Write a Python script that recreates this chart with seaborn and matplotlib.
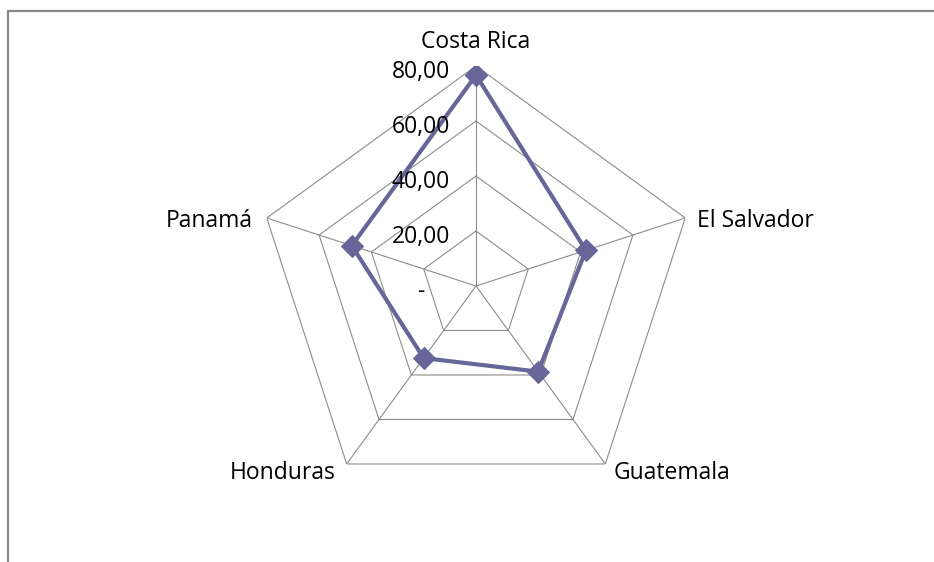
import numpy as np
import pandas as pd
import matplotlib
matplotlib.use("Agg")
import matplotlib.pyplot as plt
from matplotlib.lines import Line2D
import seaborn as sns

# ---- data ----
categories = ["Costa Rica", "El Salvador", "Guatemala", "Honduras", "Panamá"]
values = [76.7, 42.0, 38.5, 32.4, 47.5]
ring_values = [0, 20, 40, 60, 80]
ring_labels = ["-", "20,00", "40,00", "60,00", "80,00"]

LINE_COLOR = "#666699"
GRID_COLOR = "#8c8c8c"

sns.set_theme(style="white")
plt.rcParams["font.family"] = ["Open Sans", "DejaVu Sans"]

W, H = 934, 562
fig = plt.figure(figsize=(W / 100, H / 100), dpi=100)
fig.patch.set_facecolor("white")

# chart-area border (top and left visible)
fig.add_artist(Line2D([7.5 / W, 7.5 / W], [0, 1 - 10.5 / H], color="#888888", lw=1.6))
fig.add_artist(Line2D([7.5 / W, 1], [1 - 10.5 / H, 1 - 10.5 / H], color="#888888", lw=1.6))

R_PX = 220
cx, cy = 476, 286
ax = fig.add_axes([(cx - R_PX) / W, (H - cy - R_PX) / H, 2 * R_PX / W, 2 * R_PX / H],
                  projection="polar")
ax.set_theta_offset(np.pi / 2)
ax.set_theta_direction(-1)
ax.set_ylim(0, max(ring_values))
ax.grid(False)
ax.set_xticks([])
ax.set_yticks([])
ax.spines["polar"].set_visible(False)
ax.patch.set_alpha(0)

n = len(categories)
theta = np.arange(n) * 2 * np.pi / n
theta_closed = np.append(theta, theta[0])

# polygon grid rings
for r in ring_values[1:]:
    ax.plot(theta_closed, [r] * (n + 1), color=GRID_COLOR, lw=0.8, zorder=1)
# spokes
for t in theta:
    ax.plot([t, t], [0, max(ring_values)], color=GRID_COLOR, lw=0.8, zorder=1)

# data series
df = pd.DataFrame({"theta": theta_closed, "value": values + [values[0]]})
sns.lineplot(data=df, x="theta", y="value", ax=ax, sort=False, estimator=None,
             color=LINE_COLOR, lw=3.0, marker="D", markersize=11,
             markeredgecolor=LINE_COLOR, markerfacecolor=LINE_COLOR, zorder=3)
ax.set_xlabel("")
ax.set_ylabel("")

FS = 16.5
# category labels
offsets = [(0, 24, "center"), (12, -3, "left"), (8, -9, "left"), (-11, -9, "right"), (-14, -3, "right")]
for cat, t, (dx, dy, ha) in zip(categories, theta, offsets):
    ax.annotate(cat, xy=(t, max(ring_values)), xytext=(dx, dy), textcoords="offset pixels",
                ha=ha, va="center", fontsize=FS, color="black", annotation_clip=False)

# radial tick labels
for r, lab in zip(ring_values, ring_labels):
    dx = -52 if lab == "-" else -26
    ax.annotate(lab, xy=(0, r), xytext=(dx, -6), textcoords="offset pixels",
                ha="right", va="center", fontsize=FS, color="black", annotation_clip=False)

fig.savefig("out.png", dpi=100)
